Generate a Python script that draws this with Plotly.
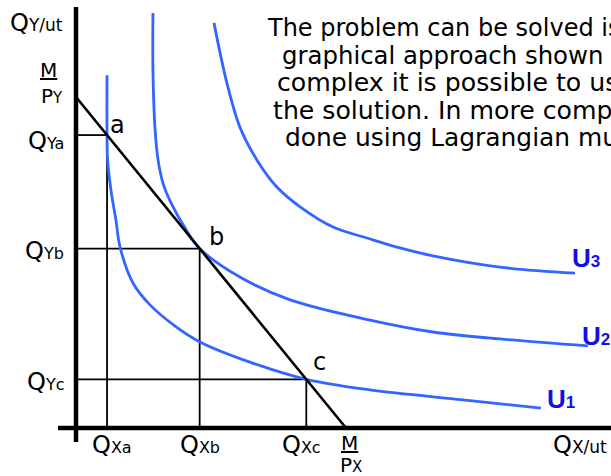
import plotly.graph_objects as go

# ---------------- data (units: M/Px = M/Py = 10) ----------------
budget_x = [0, 10]
budget_y = [10, 0]

u1_x = [1.15, 1.15, 1.17, 1.31, 1.48, 1.63, 2.11, 2.74, 3.67, 4.59, 6.44, 8.53, 10.89, 14.33, 17.22]
u1_y = [10.66, 8.85, 8.10, 7.10, 6.28, 5.47, 4.38, 3.72, 3.08, 2.60, 1.99, 1.47, 1.15, 0.85, 0.60]

u2_x = [2.85, 2.85, 2.93, 3.04, 3.22, 3.52, 4.04, 4.58, 6.07, 7.93, 10.89, 13.22, 15.70, 18.96]
u2_y = [12.54, 10.82, 9.00, 8.10, 7.40, 6.80, 6.04, 5.42, 4.56, 3.87, 3.26, 2.90, 2.69, 2.48]

u3_x = [5.11, 5.59, 6.07, 6.70, 7.44, 8.30, 9.52, 10.78, 12.00, 13.22, 15.70, 18.48]
u3_y = [12.24, 10.42, 9.09, 8.10, 7.28, 6.68, 6.07, 5.74, 5.44, 5.20, 4.86, 4.68]

point_names = ["a", "b", "c"]
point_x = [1.15, 4.58, 8.53]
point_y = [8.85, 5.42, 1.47]

curve_names = ["1", "2", "3"]

axis_x_ext = [-0.67, 19.82]
axis_y_ext = [-0.42, 12.72]

paragraph = [
    "The problem can be solved is",
    "graphical approach shown ",
    "complex it is possible to use",
    "the solution. In more complex",
    "done using Lagrangian multipliers",
]

# ---------------- layout helpers (pixel -> data) ----------------
def X(px):
    return (px - 76) / 27.0


def Y(py):
    return (428 - py) / 33.1


BLUE = "#3366ff"
LABEL_BLUE = "#1010e8"
FONT = "DejaVu Sans"

fig = go.Figure()

# axes
fig.add_trace(go.Scatter(x=[0, 0], y=axis_y_ext, mode="lines",
                         line=dict(color="black", width=4.5), hoverinfo="skip"))
fig.add_trace(go.Scatter(x=axis_x_ext, y=[0, 0], mode="lines",
                         line=dict(color="black", width=4.5), hoverinfo="skip"))

# guide lines to points
for px_, py_ in zip(point_x, point_y):
    fig.add_trace(go.Scatter(x=[0, px_], y=[py_, py_], mode="lines",
                             line=dict(color="black", width=1.8), hoverinfo="skip"))
    fig.add_trace(go.Scatter(x=[px_, px_], y=[py_, 0], mode="lines",
                             line=dict(color="black", width=1.8), hoverinfo="skip"))

# indifference curves
for cx, cy in [(u1_x, u1_y), (u2_x, u2_y), (u3_x, u3_y)]:
    fig.add_trace(go.Scatter(x=cx, y=cy, mode="lines",
                             line=dict(color=BLUE, width=2.8, shape="spline", smoothing=1.0),
                             hoverinfo="skip"))

# budget line
fig.add_trace(go.Scatter(x=budget_x, y=budget_y, mode="lines",
                         line=dict(color="black", width=2.6), hoverinfo="skip"))

ann = []


def add(text, x, y, xa="left", ya="middle", size=24, color="black", family=FONT):
    ann.append(dict(text=text, x=x, y=y, xref="x", yref="y", xanchor=xa, yanchor=ya,
                    showarrow=False, font=dict(size=size, color=color, family=family)))


def sub(s, size=16):
    return "<span style='font-size:%dpx'>%s</span>" % (size, s)


# axis titles
add("Q" + sub("Y/ut", 17), X(8), Y(23))
add("Q" + sub("X/ut", 17), X(551), Y(445))

# point labels on the axes
add("Q" + sub("Ya"), X(66), Y(141), xa="right")
add("Q" + sub("Yb"), X(66), Y(251), xa="right")
add("Q" + sub("Yc"), X(66), Y(382), xa="right")
add("Q" + sub("Xa"), X(90), Y(445))
add("Q" + sub("Xb"), X(178), Y(445))
add("Q" + sub("Xc"), X(280), Y(445))

# intercept fractions
add("<u>M</u>", X(48.5), Y(70), xa="center", size=20)
add("P" + sub("Y", 15), X(39), Y(96), size=20)
add("<u>M</u>", X(349), Y(442.5), xa="center", size=20)
add("P" + sub("X", 15), X(338), Y(465), size=20)

# point letters
for name, lx, ly in zip(point_names, [117, 216, 319], [124.7, 236.7, 361.7]):
    add(name, X(lx), Y(ly), xa="center")

# curve labels
for name, lx, ly in zip(curve_names, [545, 580, 570], [399, 336, 258]):
    add("<b>U" + sub(name, 17) + "</b>", X(lx), Y(ly), size=26, color=LABEL_BLUE,
        family="Liberation Sans")

# paragraph (cut off by the right edge, as in the original)
for line, lx, ly, fs in zip(paragraph, [265, 280, 275, 270.7, 283],
                            [28.4, 55.0, 82.4, 110.0, 137.7],
                            [24, 24.4, 25.2, 25.2, 24.9]):
    add(line, X(lx), Y(ly), size=fs)

fig.update_layout(
    width=611, height=476,
    margin=dict(l=0, r=0, t=0, b=0),
    paper_bgcolor="white", plot_bgcolor="white",
    showlegend=False,
    xaxis=dict(range=[X(0), X(611)], visible=False, fixedrange=True),
    yaxis=dict(range=[Y(476), Y(0)], visible=False, fixedrange=True),
    annotations=ann,
)

fig.write_html("out.html", config={"displayModeBar": False},
               post_script="document.body.style.margin='0';")
